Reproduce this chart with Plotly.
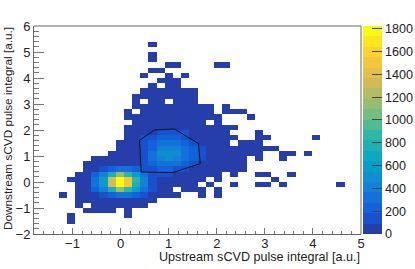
import plotly.graph_objects as go

x_edges = [round(-1.8 + 0.17 * i, 2) for i in range(41)]
y_edges = [round(-2 + 0.2 * i, 1) for i in range(41)]

# counts per row (bottom row first), column 0 upward; trailing empties omitted
counts = [
    [],
    [],
    [0,0,0,0,10],
    [0,0,0,0,10,0,0,0,0,0,0,10],
    [0,0,0,0,0,0,15,20,25,20,0,15],
    [0,0,0,0,0,10,0,20,30,40,50,40,30,15],
    [0,0,0,0,0,15,25,40,60,80,85,80,60,40,15],
    [0,0,0,10,0,20,50,85,170,250,320,300,220,120,60,30,20,10,0,0,10,0,10],
    [0,0,0,0,0,30,70,200,400,750,1100,900,550,280,120,60,25,0,15,15,10,0,10],
    [0,0,0,0,0,40,85,300,620,1300,1800,1550,800,400,170,80,50,30,25,15,0,10,0,0,10,0,0,10,10,0,10,0,0,0,0,0,0,10],
    [0,0,0,0,15,40,85,300,620,1300,1800,1550,850,400,170,85,60,40,30,20,15,0,10,0,0,0,0,0,0,10],
    [0,0,0,0,0,30,80,200,400,750,1100,900,600,300,130,100,110,90,60,40,25,15,10,0,10,0,0,10,10,0,0,10],
    [0,0,0,0,0,0,25,60,150,220,280,280,200,120,160,220,220,170,130,90,60,40,25,15,10,10],
    [0,0,0,0,0,0,15,40,70,85,85,85,85,130,240,330,330,300,220,160,90,60,30,20,15,10],
    [0,0,0,0,0,0,0,20,40,60,70,85,85,170,300,430,470,420,300,200,120,70,40,25,15,10,0,10,0,0,10],
    [0,0,0,0,0,0,0,0,0,30,45,70,85,180,320,480,520,500,340,210,120,70,45,25,20,15,10,10,0,0,10,10,0,10],
    [0,0,0,0,0,0,0,0,0,0,30,60,85,160,270,400,430,400,300,200,110,65,40,25,15,15,10,10,10,10],
    [0,0,0,0,0,0,0,0,0,0,20,45,80,130,220,280,310,280,230,150,90,50,30,20,0,10,10,10],
    [0,0,0,0,0,0,0,0,0,0,0,30,60,110,180,240,240,200,150,90,60,30,20,15,10,0,0,10,10,0,0,0,0,0,10],
    [0,0,0,0,0,0,0,0,0,0,0,25,45,75,80,120,170,180,110,70,40,25,15,10,0,0,0,10],
    [0,0,0,0,0,0,0,0,0,0,0,15,30,50,70,85,85,80,60,40,25,15,10,10,10],
    [0,0,0,0,0,0,0,0,0,0,0,0,20,30,40,50,50,40,30,20,10,0,10],
    [0,0,0,0,0,0,0,0,0,0,0,10,15,25,30,30,30,25,20,15,10,10,10,0,0,0,10],
    [0,0,0,0,0,0,0,0,0,0,0,10,0,15,20,20,25,20,15,10,10,10,0,10,10,10],
    [0,0,0,0,0,0,0,0,0,0,0,0,10,10,15,15,15,15,10,10,10,10,0,10],
    [0,0,0,0,0,0,0,0,0,0,0,0,10,0,10,10,0,10,10,10],
    [0,0,0,0,0,0,0,0,0,0,0,0,10,10,10,10,10,10,10,10],
    [0,0,0,0,0,0,0,0,0,0,0,0,0,10,10,10,10,10,10,10],
    [0,0,0,0,0,0,0,0,0,0,0,0,0,0,10,0,10,10],
    [0,0,0,0,0,0,0,0,0,0,0,0,0,0,0,10,10,10],
    [0,0,0,0,0,0,0,0,0,0,0,0,0,10,0,0,10,0,10],
    [0,0,0,0,0,0,0,0,0,0,0,0,0,0,10,10],
    [0,0,0,0,0,0,0,0,0,0,0,0,0,0,0,0,10,10,0,0,0,0,10,10],
    [0,0,0,0,0,0,0,0,0,0,0,0,0,0,10],
    [0,0,0,0,0,0,0,0,0,0,0,0,0,0,10],
    [],
    [0,0,0,0,0,0,0,0,0,0,0,0,0,0,10],
    [],
    [],
    [],
]

cut_x = [0.707, 1.123, 1.62, 1.657, 1.087, 0.43, 0.395, 0.707]
cut_y = [2.0, 2.04, 1.477, 0.708, 0.362, 0.385, 1.604, 2.0]

x_ticks = [-1, 0, 1, 2, 3, 4, 5]
x_tick_labels = ["−1", "0", "1", "2", "3", "4", "5"]
y_ticks = [-2, -1, 0, 1, 2, 3, 4, 5, 6]
y_tick_labels = ["−2", "−1", "0", "1", "2", "3", "4", "5", "6"]
bar_ticks = [0, 200, 400, 600, 800, 1000, 1200, 1400, 1600, 1800]

z_max = 1824
n_levels = 20
bird_r = [0.2082, 0.0592, 0.0780, 0.0232, 0.1802, 0.5301, 0.8186, 0.9956, 0.9764]
bird_g = [0.1664, 0.3599, 0.5041, 0.6419, 0.7178, 0.7492, 0.7328, 0.7862, 0.9832]
bird_b = [0.5293, 0.8684, 0.8385, 0.7914, 0.6425, 0.4662, 0.3499, 0.1968, 0.0539]


def bird(t):
    p = t * 8
    i = min(int(p), 7)
    f = p - i
    c = [s[i] + (s[i + 1] - s[i]) * f for s in (bird_r, bird_g, bird_b)]
    return "rgb(%d,%d,%d)" % tuple(round(v * 255) for v in c)


scale = []
for i in range(n_levels):
    col = bird((i + 1) / n_levels)
    scale.append([i / n_levels, col])
    scale.append([(i + 1) / n_levels, col])

z = [[(v if v else None) for v in row] + [None] * (40 - len(row)) for row in counts]

W, H = 415, 269
L, R, T, B = 34.4, 361.5, 25.7, 233.7
FONT = "Liberation Sans"
INK = "#222222"

fig = go.Figure()
fig.add_trace(go.Heatmap(
    x=x_edges, y=y_edges, z=z, zmin=0, zmax=z_max, colorscale=scale, hoverongaps=False,
    colorbar=dict(
        lenmode="pixels", len=B - T, thicknessmode="pixels", thickness=18.5,
        x=(364 - L) / (R - L), xanchor="left", xpad=0,
        y=0, yanchor="bottom", ypad=0, outlinewidth=0,
        tickvals=bar_ticks, ticks="inside", ticklen=10, tickcolor="#444444", tickwidth=1,
        tickfont=dict(family=FONT, size=12.6, color=INK), ticklabelposition="outside",
    ),
))
fig.add_trace(go.Scatter(x=cut_x, y=cut_y, mode="lines", line=dict(color="#111122", width=1),
                         showlegend=False, hoverinfo="skip"))

axis_common = dict(
    showgrid=False, zeroline=False, showline=True, linecolor="#666666", linewidth=1,
    ticks="inside", tickcolor="#777777", tickwidth=1,
    tickfont=dict(family=FONT, size=13, color=INK),
)
fig.update_xaxes(range=[-1.8, 5], tickvals=x_ticks, ticktext=x_tick_labels, ticklen=6,
                 ticklabelstandoff=-3,
                 minor=dict(dtick=0.2, ticks="inside", ticklen=3, tickcolor="#777777", tickwidth=1),
                 **axis_common)
fig.update_yaxes(range=[-2, 6], tickvals=y_ticks, ticktext=y_tick_labels, ticklen=10,
                 minor=dict(dtick=0.2, ticks="inside", ticklen=5, tickcolor="#777777", tickwidth=1),
                 **axis_common)

frame = dict(color="#9a9a9a", width=1.5)
fig.add_shape(type="line", xref="paper", yref="paper", x0=0, x1=1, y0=1, y1=1, line=frame)
fig.add_shape(type="line", xref="paper", yref="paper", x0=1, x1=1, y0=0, y1=1, line=frame)

fig.add_annotation(text="Upstream sCVD pulse integral [a.u.]", xref="paper", yref="paper",
                   x=1, xanchor="right", y=(B - 256.5) / (B - T), yanchor="middle",
                   showarrow=False, font=dict(family=FONT, size=12.6, color=INK), borderpad=0)
fig.add_annotation(text="Downstream sCVD pulse integral [a.u.]", xref="paper", yref="paper",
                   x=(8 - L) / (R - L), xanchor="center", y=1, yanchor="top", textangle=-90,
                   showarrow=False, font=dict(family=FONT, size=11.8, color=INK), borderpad=0)

fig.update_layout(
    width=W, height=H, autosize=False, showlegend=False,
    margin=dict(l=L, r=W - R, t=T, b=H - B, pad=0, autoexpand=False),
    paper_bgcolor="white", plot_bgcolor="white",
)
fig.write_html("out.html", config=dict(displayModeBar=False),
               post_script="document.body.style.margin='0';document.body.style.overflow='hidden';")
